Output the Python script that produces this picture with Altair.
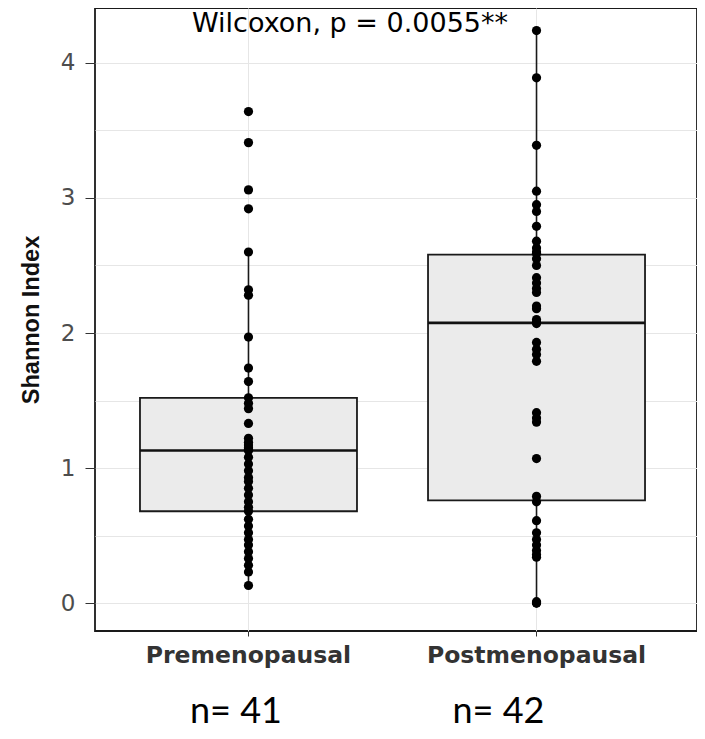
import altair as alt
import pandas as pd

groups = ["Premenopausal", "Postmenopausal"]

pre_values = [3.64, 3.41, 3.06, 2.92, 2.60, 2.32, 2.28, 1.97, 1.74, 1.64,
              1.52, 1.48, 1.44, 1.33, 1.22, 1.19, 1.17, 1.15, 1.14, 1.135,
              1.13, 1.08, 1.03, 0.98, 0.93, 0.90, 0.85, 0.80, 0.75, 0.71,
              0.68, 0.62, 0.57, 0.52, 0.47, 0.43, 0.38, 0.33, 0.28, 0.23,
              0.13]

post_values = [4.24, 3.89, 3.39, 3.05, 2.95, 2.90, 2.79, 2.68, 2.63, 2.60,
               2.59, 2.55, 2.50, 2.41, 2.37, 2.33, 2.30, 2.20, 2.18, 2.10,
               2.08, 2.07, 1.93, 1.88, 1.84, 1.79, 1.41, 1.37, 1.34, 1.07,
               0.79, 0.75, 0.61, 0.52, 0.47, 0.43, 0.39, 0.36, 0.34, 0.01,
               0.0, 0.0]

annotation = "Wilcoxon, p = 0.0055**"
n_labels = ["n= 41", "n= 42"]
y_title = "Shannon Index"

df = pd.DataFrame({
    "group": [groups[0]] * len(pre_values) + [groups[1]] * len(post_values),
    "value": pre_values + post_values,
})

x_enc = alt.X(
    "group:N",
    sort=groups,
    scale=alt.Scale(domain=groups, paddingInner=0, paddingOuter=0.045, align=0.365),
    axis=alt.Axis(
        title=None, labelAngle=0, labelFont="DejaVu Sans", labelFontWeight="bold",
        labelFontSize=23.5, labelColor="#333333", labelLimit=400, tickSize=5,
        tickColor="#333333", labelPadding=7, domain=False, grid=True,
        gridColor="#e6e6e6", bandPosition=0.5,
    ),
)
y_enc = alt.Y(
    "value:Q",
    scale=alt.Scale(domain=[-0.207, 4.407], nice=False, zero=False),
    axis=alt.Axis(
        title=y_title, titleFont="Liberation Sans", titleFontSize=23.5,
        titleFontWeight="bold", titleColor="#111111", titlePadding=17,
        values=[0, 0.5, 1, 1.5, 2, 2.5, 3, 3.5, 4],
        labelExpr="datum.value % 1 === 0 ? format(datum.value, 'd') : ''",
        labelFont="DejaVu Sans", labelFontSize=23, labelColor="#4d4d4d",
        labelPadding=10, tickSize=10,
        tickColor={"condition": {"test": "datum.value % 1 !== 0", "value": "transparent"},
                   "value": "#333333"},
        domain=False, grid=True, gridColor="#e6e6e6", gridWidth=1,
    ),
)

box = alt.Chart(df).mark_boxplot(
    extent=1.5,
    size=217,
    outliers=False,
    ticks=False,
    box={"fill": "#ebebeb", "stroke": "#1a1a1a", "strokeWidth": 1.8},
    median={"color": "#111111", "thickness": 2.6, "opacity": 1},
    rule={"color": "#1a1a1a", "strokeWidth": 1.6},
).encode(x=x_enc, y=y_enc)

pts = alt.Chart(df).mark_circle(size=85, color="black", opacity=1).encode(
    x=alt.X("group:N", sort=groups),
    y=alt.Y("value:Q"),
)

title_txt = alt.Chart(pd.DataFrame({"t": [annotation]})).mark_text(
    font="DejaVu Sans", fontSize=27, color="black", align="center", baseline="alphabetic"
).encode(text="t:N", x=alt.value(255), y=alt.value(24))

n1 = alt.Chart(pd.DataFrame({"t": [n_labels[0]]})).mark_text(
    font="Lato", fontSize=36, color="black", align="center", baseline="alphabetic", clip=False
).encode(text="t:N", x=alt.value(141), y=alt.value(715))

n2 = alt.Chart(pd.DataFrame({"t": [n_labels[1]]})).mark_text(
    font="Lato", fontSize=36, color="black", align="center", baseline="alphabetic", clip=False
).encode(text="t:N", x=alt.value(403.5), y=alt.value(715))

chart = alt.layer(box, pts, title_txt, n1, n2).properties(
    width=602,
    height=623,
    background="white",
    autosize=alt.AutoSizeParams(type="none"),
    padding={"left": 87, "top": 0, "right": 0, "bottom": 100},
).configure_view(
    stroke="#1a1a1a", strokeWidth=1.8
)

chart.save("out.html", embed_options={"renderer": "svg", "actions": False})
